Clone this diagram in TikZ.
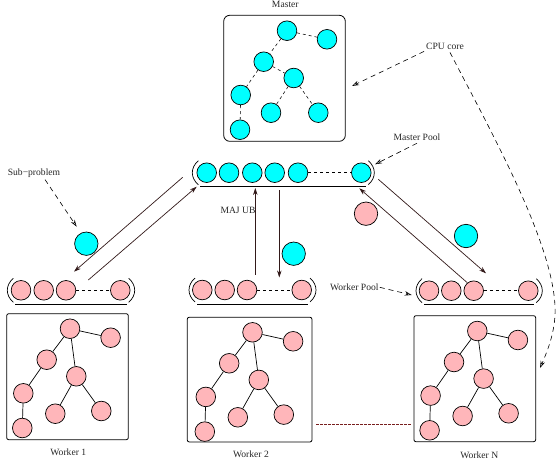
\documentclass[tikz,border=0pt]{standalone}
\usepackage{fontspec}
\setmainfont{Liberation Serif}
\usetikzlibrary{arrows.meta}
\definecolor{cyanball}{RGB}{0,255,255}
\definecolor{pinkball}{RGB}{255,182,186}
\definecolor{linkred}{RGB}{120,30,30}
\definecolor{arrowdark}{RGB}{50,25,25}
\tikzset{
  ball/.style={circle,draw=black,line width=0.7pt,minimum size=19.6pt,inner sep=0pt},
  cball/.style={ball,fill=cyanball},
  pball/.style={ball,fill=pinkball},
  bigc/.style={cball,minimum size=23.4pt},
  bigp/.style={pball,minimum size=23.4pt},
  panel/.style={draw=black,line width=0.8pt,rounded corners=2pt,inner sep=0pt},
  edge/.style={line width=0.7pt},
  dashedge/.style={line width=0.55pt,dash pattern=on 3pt off 3pt},
  poolline/.style={line width=0.7pt},
  flow/.style={draw=arrowdark,line width=0.7pt,-{Stealth[length=7pt,width=4.5pt]}},
  note/.style={line width=0.6pt,dash pattern=on 5pt off 4pt,-{Stealth[length=7pt,width=4.5pt,open]}},
  lab/.style={font=\fontsize{9.6}{11}\selectfont,text=black!85,inner sep=0pt}
}
% #1 prefix, #2 dx, #3 dy
\newcommand{\workertree}[3]{%
  \node[pball] (#1a) at (70+#2,328.7+#3) {};
  \node[pball] (#1b) at (110.6+#2,337.7+#3) {};
  \node[pball] (#1c) at (46.7+#2,359.7+#3) {};
  \node[pball] (#1d) at (76.3+#2,376.3+#3) {};
  \node[pball] (#1e) at (23.3+#2,393.3+#3) {};
  \node[pball] (#1f) at (55.3+#2,413.7+#3) {};
  \node[pball] (#1g) at (101.3+#2,411+#3) {};
  \node[pball] (#1h) at (22.3+#2,428+#3) {};
  \draw[edge] (#1a)--(#1b) (#1a)--(#1c) (#1a)--(#1d) (#1c)--(#1e)
    (#1e)--(#1h) (#1d)--(#1f) (#1d)--(#1g);
}
% #1 prefix, #2..#5 ball x, #6 y, #7 left paren x, #8 right paren x
\newcommand{\workerpool}[8]{%
  \node[pball] (#1p) at (#2,#6) {};
  \node[pball] (#1q) at (#3,#6) {};
  \node[pball] (#1r) at (#4,#6) {};
  \node[pball] (#1s) at (#5,#6) {};
  \draw[dashedge] (#1r)--(#1s);
  \poolshape{#7}{#8}{#6}
}
\newcommand{\poolshape}[3]{%
  \draw[poolline] (#1+6,#3-12) .. controls (#1-2,#3-5) and (#1-2,#3+5) .. (#1+6,#3+12);
  \draw[poolline] (#2-6,#3-12) .. controls (#2+2,#3-5) and (#2+2,#3+5) .. (#2-6,#3+12);
  \draw[poolline] (#1+8,#3+14) -- (#2-8,#3+14);
}
\begin{document}
\begin{tikzpicture}[x=1pt,y=-1pt]
\useasboundingbox (0,0) rectangle (556,463);
% Master
\node[lab] (mlabel) at (285.3,4) {Master};
\node[draw=black,line width=0.8pt,rounded corners=6pt,minimum width=121.6pt,minimum height=126pt,inner sep=0pt] (mbox) at (284.5,78.3) {};
\node[cball] (ma) at (287,30.7) {};
\node[cball] (mb) at (327,39.3) {};
\node[cball] (mc) at (263.7,61.7) {};
\node[cball] (md) at (293.7,78) {};
\node[cball] (me) at (240.7,95) {};
\node[cball] (mf) at (271,112.7) {};
\node[cball] (mg) at (318.3,112.7) {};
\node[cball] (mh) at (240,129.7) {};
\draw[dashedge] (ma)--(mb) (ma)--(mc) (mc)--(md) (mc)--(me) (me)--(mh) (md)--(mf) (md)--(mg);
% Master pool
\node[cball] (p1) at (206.7,172.7) {};
\node[cball] (p2) at (229,172.7) {};
\node[cball] (p3) at (252.3,172.7) {};
\node[cball] (p4) at (274.7,172.7) {};
\node[cball] (p5) at (298,172.7) {};
\node[cball] (p6) at (361.3,172.7) {};
\draw[dashedge] (p5)--(p6);
\poolshape{192.3}{374.3}{172.7}
% Workers
\node[panel,minimum width=121.6pt,minimum height=126pt] (w1box) at (67.5,376.7) {};
\node[panel,minimum width=124.7pt,minimum height=124.7pt] (w2box) at (249.6,379.6) {};
\node[panel,minimum width=121.7pt,minimum height=126pt] (wnbox) at (474.8,378.7) {};
\workertree{u}{0}{0}
\workertree{v}{182.5}{3.6}
\workertree{w}{407.3}{2.3}
\workerpool{u}{21}{43.7}{66}{120.3}{290.3}{7.3}{134.7}
\workerpool{v}{202.3}{224.7}{247}{301.7}{290}{189}{316}
\workerpool{w}{429}{451.3}{473.7}{528.3}{290.7}{416}{542.3}
\node[lab] (w1label) at (68.3,452.7) {Worker 1};
\node[lab] (w2label) at (251,454) {Worker 2};
\node[lab] (wnlabel) at (479.3,455.7) {Worker N};
\draw[line width=0.7pt,draw=linkred,dash pattern=on 2.5pt off 1.5pt,shorten <=4pt,shorten >=2pt] (w2box.east |- 0,424.5) -- (wnbox.west |- 0,424.5);
% Loose balls
\node[bigc] (b1) at (86.3,243.7) {};
\node[bigc] (b2) at (293.7,253.7) {};
\node[bigc] (b3) at (466,236) {};
\node[bigp] (b4) at (366,213.7) {};
% Flow arrows
\coordinate (f1s) at (182.7,177.3); \coordinate (f1e) at (74,271.7);
\coordinate (f2s) at (88.3,280);    \coordinate (f2e) at (196.7,186.7);
\coordinate (f3s) at (255.3,274.7); \coordinate (f3e) at (255.3,188);
\coordinate (f4s) at (279.3,190);   \coordinate (f4e) at (279.3,277.5);
\coordinate (f5s) at (378.3,179.3); \coordinate (f5e) at (486,273.3);
\coordinate (f6s) at (467.3,282.7); \coordinate (f6e) at (359.3,188.3);
\draw[flow] (f1s)--(f1e);
\draw[flow] (f2s)--(f2e);
\draw[flow] (f3s)--(f3e);
\draw[flow] (f4s)--(f4e);
\draw[flow] (f5s)--(f5e);
\draw[flow] (f6s)--(f6e);
% Labels and notes
\node[lab] (cpu) at (445,46) {CPU core};
\node[lab] (mpool) at (417,137.7) {Master Pool};
\node[lab] (sub) at (34,173) {Sub−problem};
\node[lab] (wpool) at (354.3,287.3) {Worker Pool};
\node[lab] (ub) at (238,210.7) {MAJ UB};
\coordinate (n1e) at (352,86);
\coordinate (n2e) at (540,368);
\coordinate (n3e) at (375,164.3);
\coordinate (n4e) at (76.7,226.7);
\coordinate (n5e) at (411.7,295);
\draw[note] (cpu.south west)++(-2,2) -- (n1e);
\draw[note] (cpu.south)++(5,3) .. controls (490,130) and (558,250) .. (555,315) .. controls (554,335) and (547,352) .. (n2e);
\draw[note] (mpool.south)++(0,2) -- (n3e);
\draw[note] (sub.south)++(11,2) -- (n4e);
\draw[note] (wpool.east)++(1,0) -- (n5e);
\end{tikzpicture}
\end{document}
